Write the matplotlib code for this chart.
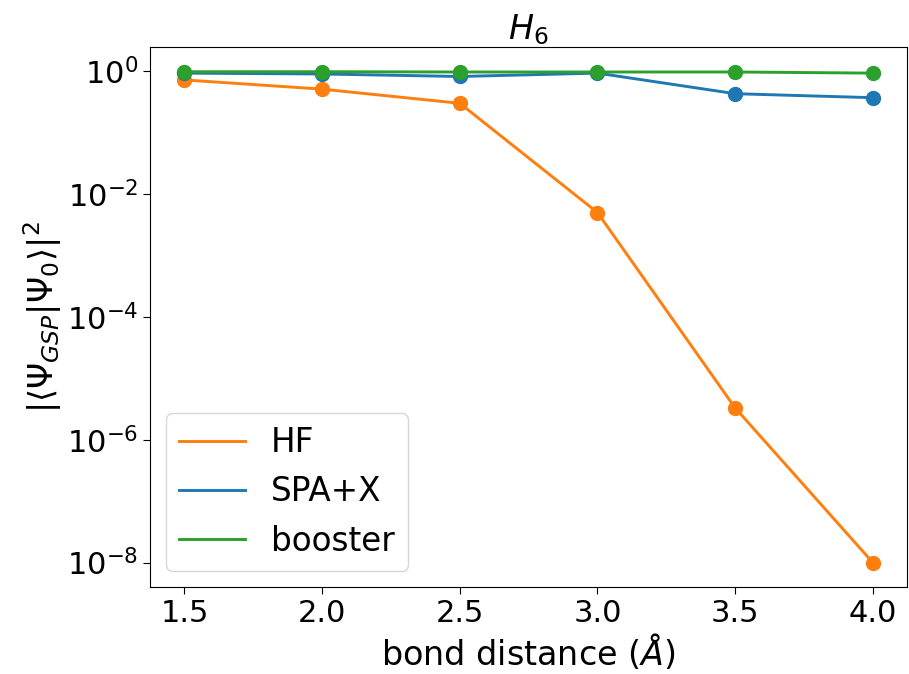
import matplotlib
matplotlib.use("Agg")
import matplotlib.pyplot as plt
from matplotlib.ticker import NullLocator

distances = [1.5, 2.0, 2.5, 3.0, 3.5, 4.0]
hf = [0.72, 0.51, 0.30, 5.0e-3, 3.3e-6, 1.0e-8]
spa_x = [0.93, 0.90, 0.82, 0.93, 0.43, 0.37]
booster = [0.98, 0.98, 0.97, 0.97, 0.97, 0.93]
yticks = [1e0, 1e-2, 1e-4, 1e-6, 1e-8]

series = [("HF", hf, "#ff7f0e"), ("SPA+X", spa_x, "#1f77b4"), ("booster", booster, "#2ca02c")]

fig = plt.figure(figsize=(9.09, 6.74), dpi=100)
ax = fig.add_axes([0.165, 0.129, 0.833, 0.801])
for name, vals, col in series:
    ax.plot(distances, vals, color=col, lw=2.1, label=name)
    ax.scatter(distances, vals, color=col, s=100, zorder=3)
ax.set_yscale("log")
ax.set_yticks(yticks)
ax.yaxis.set_minor_locator(NullLocator())
ax.set_xticks(distances)
ax.tick_params(labelsize=22, length=5)
ax.set_title(r"$H_6$", fontsize=24)
ax.set_xlabel(r"bond distance ($\AA$)", fontsize=24, labelpad=3)
ax.set_ylabel(r"$|\langle\Psi_{GSP}|\Psi_0\rangle|^2$", fontsize=24, labelpad=2)
ax.legend(fontsize=23.5, loc="lower left", handlelength=2.0)
fig.savefig("out.png", dpi=100)
